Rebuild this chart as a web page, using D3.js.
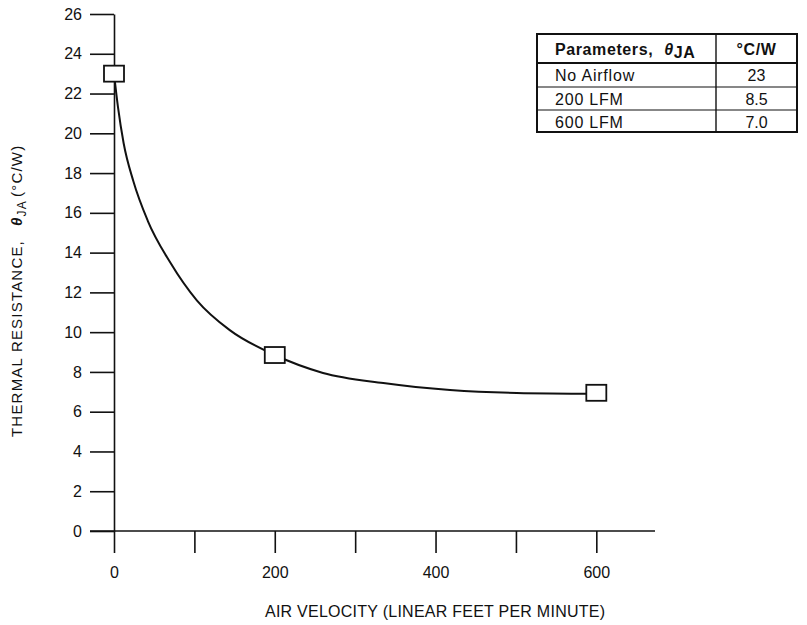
<!DOCTYPE html>
<html>
<head>
<meta charset="utf-8">
<script src="https://cdn.jsdelivr.net/npm/d3@7"></script>
<style>
  body { margin: 0; background: #fff; }
  text { font-family: "Liberation Sans", Arial, sans-serif; fill: #111; }
</style>
</head>
<body>
<svg id="chart" width="807" height="625"></svg>
<script>
// measured points (markers)
const markerX = [0, 200, 600]
const markerY = [23, 8.85, 6.95]

// points
const curveX = [0, 5, 12, 24, 42, 70, 103, 144, 200, 260, 335, 418, 501, 600]
const curveY = [23, 21.3, 19.5, 17.6, 15.6, 13.5, 11.6, 10.1, 8.85, 7.95, 7.44, 7.09, 6.94, 6.9]

const yTicks = d3.range(0, 27, 2)
const xTicks = [0, 100, 200, 300, 400, 500, 600]
const xLabels = [0, 200, 400, 600]

// table
const tableHead = ['Parameters, ', '°C/W']
const tableParams = ['No Airflow', '200 LFM', '600 LFM']
const tableValues = ['23', '8.5', '7.0']

const svg = d3.select('#chart')

const xscale = d3.scaleLinear().domain([0, 673]).range([114, 655])
const yscale = d3.scaleLinear().domain([0, 26]).range([531, 14])

const yaxis = d3.axisLeft(yscale).tickValues(yTicks).tickSize(24).tickSizeOuter(0).tickPadding(8)
const xaxis = d3.axisBottom(xscale).tickValues(xTicks).tickSize(22).tickSizeOuter(0).tickPadding(14)
  .tickFormat(d => xLabels.includes(d) ? d : '')

const yg = svg.append('g').attr('transform', `translate(${xscale(0)},0)`).call(yaxis)
const xg = svg.append('g').attr('transform', `translate(0,${yscale(0)})`).call(xaxis)

;[yg, xg].forEach(g => {
  g.selectAll('path.domain').attr('stroke', '#111').attr('stroke-width', 1.6)
  g.selectAll('.tick line').attr('stroke', '#111').attr('stroke-width', 1.6)
  g.selectAll('.tick text').attr('font-size', 16).attr('fill', '#111')
    .attr('font-family', '"Liberation Sans", Arial, sans-serif')
})
// horizontal axis starts where the y ticks start
xg.select('path.domain').attr('d', `M${xscale(0) - 24},0H${xscale(673)}`)

// curve
const pts = curveX.map((x, i) => [x, curveY[i]])
const line = d3.line().x(d => xscale(d[0])).y(d => yscale(d[1])).curve(d3.curveMonotoneX)
svg.append('path').datum(pts).attr('d', line)
  .attr('fill', 'none').attr('stroke', '#111').attr('stroke-width', 2)

// markers
svg.selectAll('rect.marker').data(markerX).enter().append('rect')
  .attr('class', 'marker')
  .attr('x', d => xscale(d) - 10)
  .attr('y', (d, i) => yscale(markerY[i]) - 8)
  .attr('width', 20).attr('height', 16)
  .attr('fill', '#fff').attr('stroke', '#111').attr('stroke-width', 1.8)

// axis titles
svg.append('text').attr('x', 265).attr('y', 617)
  .attr('font-size', 16).attr('letter-spacing', 0.25).text('AIR VELOCITY (LINEAR FEET PER MINUTE)')

const yt = svg.append('text').attr('transform', 'translate(22,437) rotate(-90)')
  .attr('font-size', 15).attr('letter-spacing', 1.2)
yt.append('tspan').text('THERMAL RESISTANCE,')
yt.append('tspan').attr('dx', 14).attr('font-style', 'italic').attr('font-weight', 'bold').text('θ')
yt.append('tspan').attr('dy', 4).attr('font-size', 12).text('JA')
yt.append('tspan').attr('dy', -4).attr('dx', 3).text('(°C/W)')

// table
const tx = [537, 716, 797]
const ty = [34, 63, 87, 110, 132]
const tbl = svg.append('g')
tbl.append('rect').attr('x', tx[0]).attr('y', ty[0]).attr('width', tx[2] - tx[0]).attr('height', ty[4] - ty[0])
  .attr('fill', 'none').attr('stroke', '#111').attr('stroke-width', 2)
tbl.selectAll('line.row').data(ty.slice(1, 4)).enter().append('line')
  .attr('x1', tx[0]).attr('x2', tx[2]).attr('y1', d => d).attr('y2', d => d)
  .attr('stroke', '#111').attr('stroke-width', (d, i) => i == 0 ? 1.8 : 1.2)
tbl.append('line').attr('x1', tx[1]).attr('x2', tx[1]).attr('y1', ty[0]).attr('y2', ty[4])
  .attr('stroke', '#111').attr('stroke-width', 1.4)

const hd = tbl.append('text').attr('x', 555).attr('y', 55).attr('font-size', 16).attr('font-weight', 'bold')
  .attr('letter-spacing', 0.6)
hd.append('tspan').text(tableHead[0])
hd.append('tspan').attr('dx', 6).attr('font-style', 'italic').text('θ')
hd.append('tspan').attr('dy', 3).text('JA')
tbl.append('text').attr('x', (tx[1] + tx[2]) / 2).attr('y', 55).attr('text-anchor', 'middle')
  .attr('font-size', 16).attr('font-weight', 'bold').attr('letter-spacing', 0.6).text(tableHead[1])

tableParams.forEach((p, i) => {
  tbl.append('text').attr('x', 555).attr('y', ty[i + 1] + 18).attr('font-size', 16)
    .attr('letter-spacing', 0.8).text(p)
  tbl.append('text').attr('x', (tx[1] + tx[2]) / 2).attr('y', ty[i + 1] + 18)
    .attr('text-anchor', 'middle').attr('font-size', 16).text(tableValues[i])
})
</script>
</body>
</html>
